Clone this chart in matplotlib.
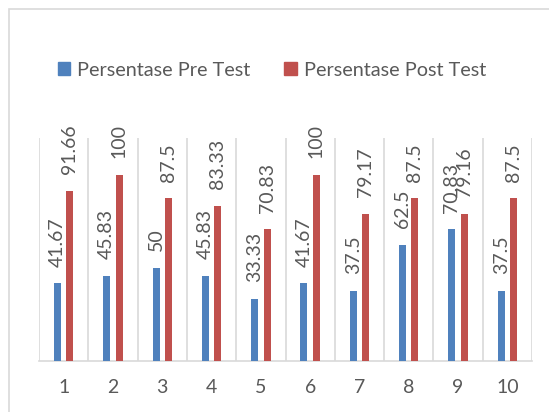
import numpy as np
import matplotlib
matplotlib.use("Agg")
import matplotlib.pyplot as plt
from matplotlib.patches import Rectangle, Patch

plt.rcParams["font.family"] = ["Lato", "DejaVu Sans"]

categories = ["1", "2", "3", "4", "5", "6", "7", "8", "9", "10"]
pre_test = [41.67, 45.83, 50, 45.83, 33.33, 41.67, 37.5, 62.5, 70.83, 37.5]
post_test = [91.66, 100, 87.5, 83.33, 70.83, 100, 79.17, 87.5, 79.16, 87.5]
pre_labels = ["41.67", "45.83", "50", "45.83", "33.33", "41.67", "37.5", "62.5", "70.83", "37.5"]
post_labels = ["91.66", "100", "87.5", "83.33", "70.83", "100", "79.17", "87.5", "79.16", "87.5"]

BLUE = "#4F81BD"
RED = "#C0504D"
TEXT = "#595959"
GRID = "#D9D9D9"

W, H = 549, 412
fig = plt.figure(figsize=(W / 100, H / 100), dpi=100)

# outer chart frame (cropped on right/bottom)
fig.patches.append(Rectangle((9 / W, -0.05), 1.0, (H - 9) / H + 0.05,
                             transform=fig.transFigure, fill=False,
                             edgecolor=GRID, linewidth=1.2))

ax = fig.add_axes([39 / W, (H - 360.7) / H, 493 / W, (360.7 - 138) / H])

x = np.arange(len(categories))
bw = 0.142
off = 0.126
ax.bar(x - off, pre_test, bw, color=BLUE, zorder=3)
ax.bar(x + off, post_test, bw, color=RED, zorder=3)

for xi, v, s in zip(x, pre_test, pre_labels):
    ax.annotate(s, (xi - off, v), xytext=(0, 12), textcoords="offset points",
                rotation=90, ha="center", va="bottom", fontsize=14, color=TEXT)
for xi, v, s in zip(x, post_test, post_labels):
    ax.annotate(s, (xi + off, v), xytext=(0, 12), textcoords="offset points",
                rotation=90, ha="center", va="bottom", fontsize=14, color=TEXT)

for b in np.arange(-0.5, len(categories), 1.0):
    ax.axvline(b, color=GRID, linewidth=1.2, zorder=1)

ax.set_xlim(-0.5, len(categories) - 0.5)
ax.set_ylim(0, 120)
ax.set_yticks([])
ax.set_xticks(x)
ax.set_xticklabels(categories, fontsize=14, color=TEXT)
ax.tick_params(axis="x", length=0, pad=13)
for side in ["top", "right", "left"]:
    ax.spines[side].set_visible(False)
ax.spines["bottom"].set_color(GRID)
ax.spines["bottom"].set_linewidth(1.2)
ax.patch.set_visible(False)

handles = [Patch(color=BLUE, label="Persentase Pre Test"),
           Patch(color=RED, label="Persentase Post Test")]
fig.legend(handles=handles, loc="center", bbox_to_anchor=(272 / W, (H - 70) / H),
           ncol=2, frameon=False, fontsize=14.3, labelcolor=TEXT,
           handlelength=0.65, handleheight=0.65, handletextpad=0.35, columnspacing=1.7)

fig.savefig("out.png", dpi=100)
